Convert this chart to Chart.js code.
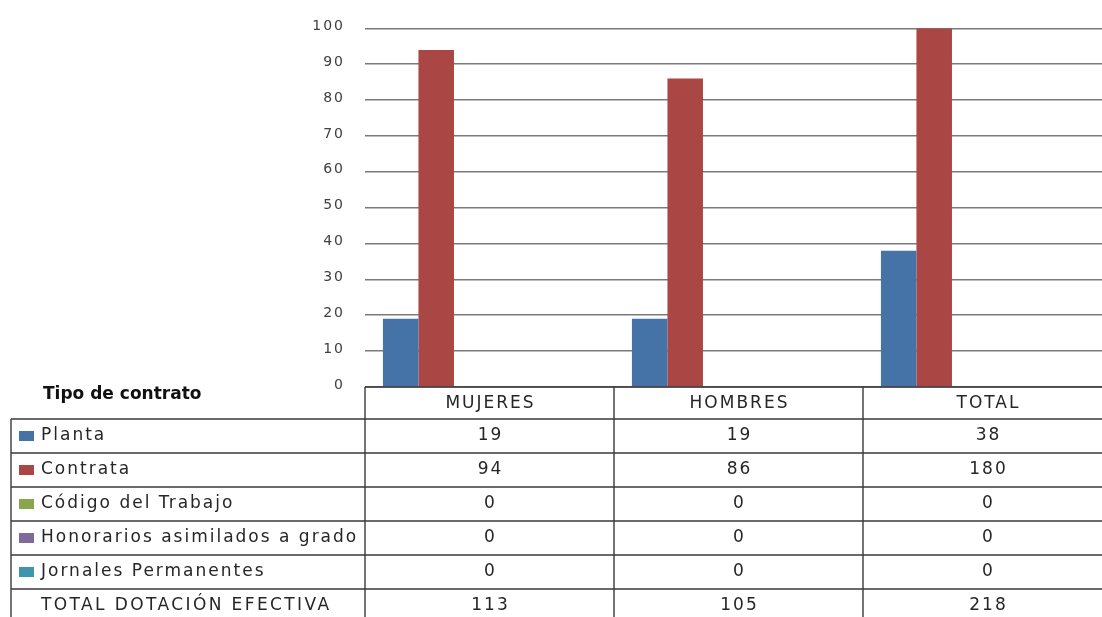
<!DOCTYPE html>
<html>
<head>
<meta charset="utf-8">
<script src="https://cdn.jsdelivr.net/npm/chart.js@4/dist/chart.umd.min.js"></script>
<style>
html,body{margin:0;padding:0;background:#fff;overflow:hidden;width:1102px;height:617px;}
#wrap{position:absolute;left:0;top:0;width:1112px;height:617px;}
</style>
</head>
<body>
<div id="wrap"><canvas id="c" width="1112" height="617"></canvas></div>
<script>
const categories = ["MUJERES", "HOMBRES", "TOTAL"];
const seriesNames = ["Planta", "Contrata", "Código del Trabajo", "Honorarios asimilados a grado", "Jornales Permanentes", "TOTAL DOTACIÓN EFECTIVA"];
const planta = [19, 19, 38];
const contrata = [94, 86, 180];
const codigoTrabajo = [0, 0, 0];
const honorarios = [0, 0, 0];
const jornales = [0, 0, 0];
const totalDotacion = [113, 105, 218];
const yTicks = [0, 10, 20, 30, 40, 50, 60, 70, 80, 90, 100];
const tableTitle = "Tipo de contrato";

const seriesValues = [planta, contrata, codigoTrabajo, honorarios, jornales, totalDotacion];
const colors = ["#4572A7", "#AA4643", "#89A54E", "#80699B", "#3D96AE", "rgba(0,0,0,0)"];

const FONT = "'DejaVu Sans', Verdana, sans-serif";

const tablePlugin = {
  id: 'dataTable',
  beforeDraw(chart) {
    chart.ctx.letterSpacing = '2px';
  },
  afterDraw(chart) {
    const ctx = chart.ctx;
    const ca = chart.chartArea;
    const xs = chart.scales.x;
    const n = categories.length;
    const catW = (ca.right - ca.left) / n;
    const tableLeft = 11;
    const headerTop = ca.bottom;
    const headerH = 32;
    const rowH = 34;
    const rowsTop = headerTop + headerH;
    ctx.save();
    ctx.strokeStyle = '#3a3a3a';
    ctx.lineWidth = 1.4;
    ctx.beginPath();
    ctx.moveTo(ca.left, headerTop); ctx.lineTo(ca.right, headerTop);
    for (let i = 0; i <= n; i++) {
      const x = ca.left + i * catW;
      ctx.moveTo(x, headerTop); ctx.lineTo(x, rowsTop + rowH * seriesNames.length);
    }
    for (let r = 0; r <= seriesNames.length; r++) {
      const y = rowsTop + r * rowH;
      ctx.moveTo(tableLeft, y); ctx.lineTo(ca.right, y);
    }
    ctx.moveTo(tableLeft, rowsTop); ctx.lineTo(tableLeft, rowsTop + rowH * seriesNames.length);
    ctx.stroke();

    ctx.fillStyle = '#262626';
    ctx.textBaseline = 'middle';
    ctx.letterSpacing = '2px';
    ctx.font = "17px " + FONT;
    ctx.textAlign = 'center';
    categories.forEach((c, i) => {
      ctx.fillText(c, xs.getPixelForValue(i) + 1, headerTop + headerH / 2 + 1);
    });
    ctx.letterSpacing = '0px';
    ctx.font = "bold 17px " + FONT;
    ctx.textAlign = 'left';
    ctx.fillStyle = '#111';
    ctx.fillText(tableTitle, 43, headerTop + 8);
    ctx.font = "17px " + FONT;
    seriesNames.forEach((name, r) => {
      const cy = rowsTop + r * rowH + rowH / 2;
      ctx.fillStyle = '#262626';
      ctx.textAlign = 'left';
      ctx.letterSpacing = (r === seriesNames.length - 1) ? '2.4px' : '2px';
      ctx.fillText(name, 41, cy);
      ctx.letterSpacing = '2px';
      if (colors[r] !== 'rgba(0,0,0,0)') {
        ctx.fillStyle = colors[r];
        ctx.fillRect(19, cy - 5, 15, 10);
      }
      ctx.fillStyle = '#262626';
      ctx.textAlign = 'center';
      seriesValues[r].forEach((v, i) => {
        ctx.fillText(String(v), xs.getPixelForValue(i) + 1, cy);
      });
    });
    ctx.restore();
  }
};

Chart.defaults.font.family = FONT;
new Chart(document.getElementById('c'), {
  type: 'bar',
  data: {
    labels: categories,
    datasets: seriesNames.map((name, k) => ({
      label: name,
      data: seriesValues[k],
      backgroundColor: colors[k],
      borderWidth: 0,
      barPercentage: 1,
      categoryPercentage: 0.856
    }))
  },
  options: {
    responsive: false,
    animation: false,
    events: [],
    layout: { padding: { top: 28, bottom: 230, left: 0, right: 0 } },
    plugins: { legend: { display: false }, tooltip: { enabled: false } },
    scales: {
      x: { display: false },
      y: {
        min: 0, max: 100,
        afterFit(scale) { scale.width = 365; },
        afterBuildTicks(scale) { scale.ticks = yTicks.map(v => ({ value: v })); },
        border: { display: false },
        grid: { color: '#7a7a7a', lineWidth: 1.6, drawTicks: false },
        ticks: { padding: 20, color: '#404040', font: { size: 14 }, labelOffset: -2 }
      }
    }
  },
  plugins: [tablePlugin]
});
</script>
</body>
</html>
